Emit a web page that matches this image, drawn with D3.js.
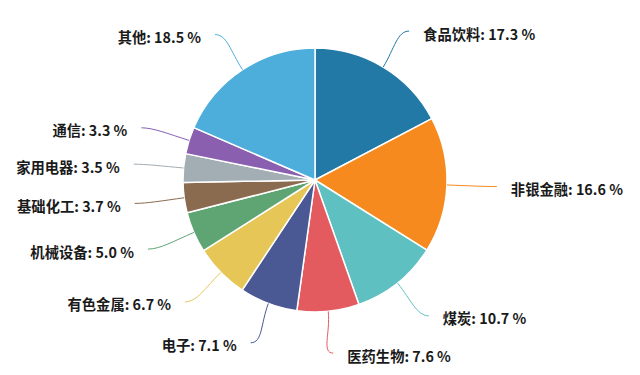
<!DOCTYPE html>
<html>
<head>
<meta charset="utf-8">
<script src="https://cdn.jsdelivr.net/npm/d3@7"></script>
<style>
  html, body { margin: 0; padding: 0; background: #fff; }
  svg { display: block; }
  .label { font-family: "Noto Sans CJK SC", "Noto Sans", sans-serif; font-size: 14.3px; font-weight: 700; fill: #1a1a1a; }
</style>
</head>
<body>
<div id="chart"></div>
<script>
const WIDTH = 640;
const HEIGHT = 375;
const CX = 315;
const CY = 180;
const RADIUS = 132;
const LABEL_RX = 182;
const LABEL_RY = 174;
const TEXT_GAP = 14;
const TEXT_DROP = 3.5;

const sectors = ["食品饮料", "非银金融", "煤炭", "医药生物", "电子", "有色金属", "机械设备", "基础化工", "家用电器", "通信", "其他"];
const shares = [17.3, 16.6, 10.7, 7.6, 7.1, 6.7, 5.0, 3.7, 3.5, 3.3, 18.5];
const colours = ["#2279a6", "#f68a1e", "#5fc0c2", "#e35b5f", "#4a5894", "#e6c656", "#5ea573", "#8b6b4f", "#a3adb4", "#8a5fb0", "#4eaedb"];

const rows = sectors.map((name, i) => ({ name, value: shares[i], colour: colours[i] }));

const svg = d3.select("#chart").append("svg")
  .attr("width", WIDTH)
  .attr("height", HEIGHT);

const pie = d3.pie().sort(null).value((d) => d.value);
const arc = d3.arc().innerRadius(0).outerRadius(RADIUS);
const arcs = pie(rows);

const g = svg.append("g").attr("transform", `translate(${CX},${CY})`);

g.selectAll("path.slice")
  .data(arcs)
  .join("path")
  .attr("class", "slice")
  .attr("d", arc)
  .attr("fill", (d) => d.data.colour)
  .attr("stroke", "#fff")
  .attr("stroke-width", 1.5)
  .attr("stroke-linejoin", "round");

// connector: from label point, soft curve into the slice edge
const midAngle = (d) => (d.startAngle + d.endAngle) / 2;

const connector = (d) => {
  const a = midAngle(d);
  const s = Math.sin(a), c = -Math.cos(a);
  const lx = s * LABEL_RX, ly = c * LABEL_RY;
  const ex = s * RADIUS, ey = c * RADIUS;
  const dir = s >= 0 ? 1 : -1;
  const path = d3.path();
  path.moveTo(lx, ly);
  path.bezierCurveTo(lx - dir * 12, ly, s * (RADIUS + 22), c * (RADIUS + 22), ex, ey);
  return path.toString();
};

g.selectAll("path.connector")
  .data(arcs)
  .join("path")
  .attr("class", "connector")
  .attr("d", connector)
  .attr("fill", "none")
  .attr("stroke", (d) => d.data.colour)
  .attr("stroke-width", 1);

g.selectAll("text.label")
  .data(arcs)
  .join("text")
  .attr("class", "label")
  .attr("x", (d) => {
    const s = Math.sin(midAngle(d));
    return s * LABEL_RX + (s >= 0 ? TEXT_GAP : -TEXT_GAP);
  })
  .attr("y", (d) => -Math.cos(midAngle(d)) * LABEL_RY + TEXT_DROP)
  .attr("dy", "0.35em")
  .attr("text-anchor", (d) => Math.sin(midAngle(d)) >= 0 ? "start" : "end")
  .text((d) => `${d.data.name}: ${d.data.value.toFixed(1)} %`);
</script>
</body>
</html>
